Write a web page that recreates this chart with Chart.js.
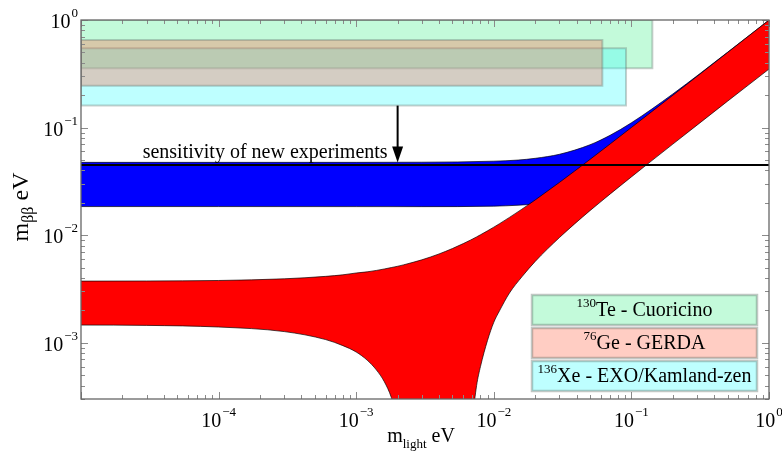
<!DOCTYPE html>
<html>
<head>
<meta charset="utf-8">
<script src="https://cdn.jsdelivr.net/npm/chart.js@4.4.0/dist/chart.umd.min.js"></script>
<style>
  html, body { margin: 0; padding: 0; background: #fff; }
  canvas { display: block; }
</style>
</head>
<body>
<canvas id="myChart" width="782" height="458"></canvas>
<script>
// normal hierarchy band (red): lightest mass in eV, m_bb upper / lower edge
var nhMass  = [1e-5, 3e-5, 1e-4, 3e-4, 6e-4, 8e-4, 1e-3, 1.2e-3, 1.4e-3, 1.6e-3, 1.8e-3, 2e-3, 2.2e-3, 2.3e-3, 3e-3, 4e-3, 5e-3, 6e-3, 6.6e-3, 6.8e-3, 7e-3, 7.5e-3, 8e-3, 9e-3, 1e-2, 1.1e-2, 1.3e-2, 1.6e-2, 2e-2, 3e-2, 5e-2, 0.1, 0.2, 0.5, 1];
var nhUpper = [0.00374, 0.00375, 0.00379, 0.00393, 0.00414, 0.00428, 0.00445, 0.00456, 0.00470, 0.00485, 0.00500, 0.00514, 0.00529, 0.00537, 0.00590, 0.00669, 0.00751, 0.00835, 0.00886, 0.00903, 0.00920, 0.00964, 0.01008, 0.01097, 0.01187, 0.01278, 0.01463, 0.01744, 0.02126, 0.03094, 0.05058, 0.1002, 0.1998, 0.4991, 0.998];
// 1e-6 = the edge drops to zero there (below the axis)
var nhLower = [0.00146, 0.00145, 0.00140, 0.00127, 0.00107, 0.00094, 0.00082, 0.00069, 0.00056, 0.000435, 0.00031, 0.00019, 0.000068, 0.0000076, 1e-6, 1e-6, 1e-6, 1e-6, 0.00004, 0.00012, 0.00019, 0.00040, 0.00060, 0.00105, 0.00155, 0.00198, 0.00290, 0.00410, 0.00570, 0.00950, 0.01690, 0.0348, 0.0702, 0.176, 0.350];

// inverted hierarchy band (blue)
var ihMass  = [1e-5, 1e-4, 1e-3, 3e-3, 1e-2, 1.5e-2, 2e-2, 3e-2, 5e-2, 7e-2, 0.1, 0.2, 0.5, 1];
var ihUpper = [0.0475, 0.0475, 0.04752, 0.04765, 0.04871, 0.04990, 0.0518, 0.05647, 0.06921, 0.08476, 0.1108, 0.2053, 0.5013, 0.9992];
var ihLower = [0.01844, 0.01844, 0.01842, 0.01841, 0.0186, 0.01898, 0.01952, 0.02107, 0.0255, 0.03104, 0.04039, 0.07458, 0.1819, 0.3624];

// sensitivity line and arrow
var sensitivity = 0.045;
var arrowMass = 2e-3;
var arrowFrom = 0.16;
var arrowTo = 0.0473;

// experimental bounds (boxes)
var expIsotope = ['130', '76', '136'];
var expName    = ['Te - Cuoricino', 'Ge - GERDA', 'Xe - EXO/Kamland-zen'];
var expTop     = [1.0, 0.652, 0.546];
var expBottom  = [0.356, 0.245, 0.16];
var expRight   = [0.142, 0.0615, 0.0914];
var expColor   = ['rgba(84,241,149,0.35)', 'rgba(255,112,83,0.35)', 'rgba(69,255,255,0.35)'];

var xMin = 1e-5, xMax = 1, yMin = 3e-4, yMax = 1;
var xTicks = [1e-4, 1e-3, 1e-2, 1e-1, 1];
var xTickExp = ['\u22124', '\u22123', '\u22122', '\u22121', '0'];
var yTicks = [1e-3, 1e-2, 1e-1, 1];
var yTickExp = ['\u22123', '\u22122', '\u22121', '0'];

var BIG = '20px "Liberation Serif"';
var SMALL = '13px "Liberation Serif"';

function pts(xs, ys) {
    return xs.map(function (x, i) { return {x: x, y: ys[i]}; });
}
function box(i) {
    return [
        {x: xMin, y: expTop[i]}, {x: expRight[i], y: expTop[i]},
        {x: expRight[i], y: expBottom[i]}, {x: xMin, y: expBottom[i]},
        {x: xMin, y: expTop[i]}
    ];
}

function supText(ctx, x, y, base, sup, align) {
    ctx.font = BIG; var w1 = ctx.measureText(base).width;
    ctx.font = SMALL; var w2 = ctx.measureText(sup).width;
    var x0 = align === 'center' ? x - (w1 + w2 + 1) / 2 : (align === 'right' ? x - w1 - w2 - 1 : x);
    ctx.textAlign = 'left';
    ctx.textBaseline = 'alphabetic';
    ctx.font = BIG; ctx.fillText(base, x0, y);
    ctx.font = SMALL; ctx.fillText(sup, x0 + w1 + 1, y - 11);
}
function preSupText(ctx, x, y, sup, base) {
    ctx.font = SMALL; var w1 = ctx.measureText(sup).width;
    ctx.font = BIG; var w2 = ctx.measureText(base).width;
    var x0 = x - (w1 + w2) / 2;
    ctx.textAlign = 'left';
    ctx.textBaseline = 'alphabetic';
    ctx.font = SMALL; ctx.fillText(sup, x0, y - 9);
    ctx.font = BIG; ctx.fillText(base, x0 + w1, y);
}

var decor = {
    id: 'decor',
    afterDatasetsDraw: function (chart) {
        var ctx = chart.ctx, xs = chart.scales.x, ys = chart.scales.y;
        var ax = xs.getPixelForValue(arrowMass);
        var y0 = ys.getPixelForValue(arrowFrom);
        var y1 = ys.getPixelForValue(arrowTo);
        ctx.save();
        ctx.strokeStyle = '#000';
        ctx.fillStyle = '#000';
        ctx.lineWidth = 2;
        ctx.beginPath();
        ctx.moveTo(ax, y0);
        ctx.lineTo(ax, y1 - 12);
        ctx.stroke();
        ctx.beginPath();
        ctx.moveTo(ax - 5.5, y1 - 16);
        ctx.lineTo(ax + 5.5, y1 - 16);
        ctx.lineTo(ax, y1);
        ctx.closePath();
        ctx.fill();
        ctx.font = BIG;
        ctx.textAlign = 'right';
        ctx.textBaseline = 'alphabetic';
        ctx.fillText('sensitivity of new experiments', ax - 10, ys.getPixelForValue(sensitivity) - 7);
        ctx.restore();
    },
    afterDraw: function (chart) {
        var ctx = chart.ctx, a = chart.chartArea;
        var xs = chart.scales.x, ys = chart.scales.y;
        ctx.save();
        // minor/major ticks, pointing inwards
        ctx.strokeStyle = '#8a8a8a';
        ctx.lineWidth = 1;
        ctx.beginPath();
        var e, k, v, p, len;
        for (e = -5; e <= 0; e++) {
            for (k = 1; k <= 9; k++) {
                v = k * Math.pow(10, e);
                if (v < xMin * 0.999 || v > xMax * 1.001) continue;
                len = k === 1 ? 7 : 4;
                p = Math.round(xs.getPixelForValue(v)) + 0.5;
                ctx.moveTo(p, a.bottom); ctx.lineTo(p, a.bottom - len);
                ctx.moveTo(p, a.top); ctx.lineTo(p, a.top + len);
            }
        }
        for (e = -4; e <= 0; e++) {
            for (k = 1; k <= 9; k++) {
                v = k * Math.pow(10, e);
                if (v < yMin * 0.999 || v > yMax * 1.001) continue;
                len = k === 1 ? 7 : 4;
                p = Math.round(ys.getPixelForValue(v)) + 0.5;
                ctx.moveTo(a.left, p); ctx.lineTo(a.left + len, p);
                ctx.moveTo(a.right, p); ctx.lineTo(a.right - len, p);
            }
        }
        ctx.stroke();
        // frame
        ctx.strokeStyle = '#666';
        ctx.lineWidth = 1.3;
        ctx.strokeRect(a.left, a.top, a.right - a.left, a.bottom - a.top);

        // tick labels
        ctx.fillStyle = '#000';
        xTicks.forEach(function (t, i) {
            supText(ctx, xs.getPixelForValue(t), a.bottom + 28, '10', xTickExp[i], 'center');
        });
        yTicks.forEach(function (t, i) {
            supText(ctx, a.left - 3, ys.getPixelForValue(t) + 8, '10', yTickExp[i], 'right');
        });

        // x title
        ctx.font = BIG; var wm = ctx.measureText('m').width, we = ctx.measureText(' eV').width;
        ctx.font = SMALL; var wl = ctx.measureText('light').width;
        var tx = (a.left + a.right) / 2 - (wm + wl + we) / 2 - 4;
        ctx.textAlign = 'left';
        ctx.font = BIG; ctx.fillText('m', tx, 442);
        ctx.font = SMALL; ctx.fillText('light', tx + wm, 448);
        ctx.font = BIG; ctx.fillText(' eV', tx + wm + wl, 442);

        // y title
        var YBIG = '24px "Liberation Serif"', YSMALL = '16px "Liberation Serif"';
        ctx.save();
        ctx.translate(28, 207);
        ctx.rotate(-Math.PI / 2);
        ctx.font = YBIG; var ym = ctx.measureText('m').width, ye = ctx.measureText(' eV').width;
        ctx.font = YSMALL; var wb = ctx.measureText('\u03b2\u03b2').width;
        var ty = -(ym + wb + ye) / 2;
        ctx.font = YBIG; ctx.fillText('m', ty, 0);
        ctx.font = YSMALL; ctx.fillText('\u03b2\u03b2', ty + ym, 5);
        ctx.font = YBIG; ctx.fillText(' eV', ty + ym + wb, 0);
        ctx.restore();

        // legend
        var lx = 532, lw = 225, lh = 30;
        var rowTop = [295, 328, 361];
        for (var i = 0; i < 3; i++) {
            ctx.fillStyle = '#fff';
            ctx.fillRect(lx, rowTop[i], lw, lh);
            ctx.fillStyle = expColor[i];
            ctx.fillRect(lx, rowTop[i], lw, lh);
            ctx.strokeStyle = 'rgba(100,115,108,0.4)';
            ctx.lineWidth = 2.5;
            ctx.strokeRect(lx, rowTop[i], lw, lh);
            ctx.fillStyle = '#000';
            preSupText(ctx, lx + lw / 2, rowTop[i] + 21, expIsotope[i], expName[i]);
        }
        ctx.restore();
    }
};

var ctx = document.getElementById('myChart').getContext('2d');
var myChart = new Chart(ctx, {
    type: 'line',
    data: {
        datasets: [
            {   // 0 sensitivity line
                data: [{x: xMin, y: sensitivity}, {x: xMax, y: sensitivity}],
                borderColor: '#000', borderWidth: 2, fill: false, order: 0
            },
            {   // 1 NH upper edge
                data: pts(nhMass, nhUpper),
                borderColor: 'rgba(0,0,0,0.85)', borderWidth: 0.8, fill: false,
                cubicInterpolationMode: 'monotone', order: 1
            },
            {   // 2 NH lower edge, filled up to the upper edge
                data: pts(nhMass, nhLower),
                borderColor: 'rgba(0,0,0,0.85)', borderWidth: 0.8,
                backgroundColor: '#ff0000', fill: '-1',
                cubicInterpolationMode: 'monotone', order: 1
            },
            {   // 3 IH upper edge
                data: pts(ihMass, ihUpper),
                borderColor: 'rgba(0,0,0,0.85)', borderWidth: 0.8, fill: false,
                cubicInterpolationMode: 'monotone', order: 2
            },
            {   // 4 IH lower edge
                data: pts(ihMass, ihLower),
                borderColor: 'rgba(0,0,0,0.85)', borderWidth: 0.8,
                backgroundColor: '#0000ff', fill: '-1',
                cubicInterpolationMode: 'monotone', order: 2
            },
            {   // 5 GERDA
                data: box(1), borderColor: 'rgba(100,115,108,0.35)', borderWidth: 2,
                backgroundColor: expColor[1], fill: 'shape', tension: 0, order: 3
            },
            {   // 6 EXO / Kamland-zen
                data: box(2), borderColor: 'rgba(100,115,108,0.35)', borderWidth: 2,
                backgroundColor: expColor[2], fill: 'shape', tension: 0, order: 4
            },
            {   // 7 Cuoricino
                data: box(0), borderColor: 'rgba(100,115,108,0.35)', borderWidth: 2,
                backgroundColor: expColor[0], fill: 'shape', tension: 0, order: 5
            }
        ]
    },
    options: {
        responsive: false,
        animation: false,
        events: [],
        layout: { padding: { left: 81, top: 20, right: 13, bottom: 59 } },
        elements: { point: { radius: 0 } },
        plugins: { legend: { display: false }, tooltip: { enabled: false } },
        scales: {
            x: { type: 'logarithmic', min: xMin, max: xMax, display: false },
            y: { type: 'logarithmic', min: yMin, max: yMax, display: false }
        }
    },
    plugins: [decor]
});
</script>
</body>
</html>
